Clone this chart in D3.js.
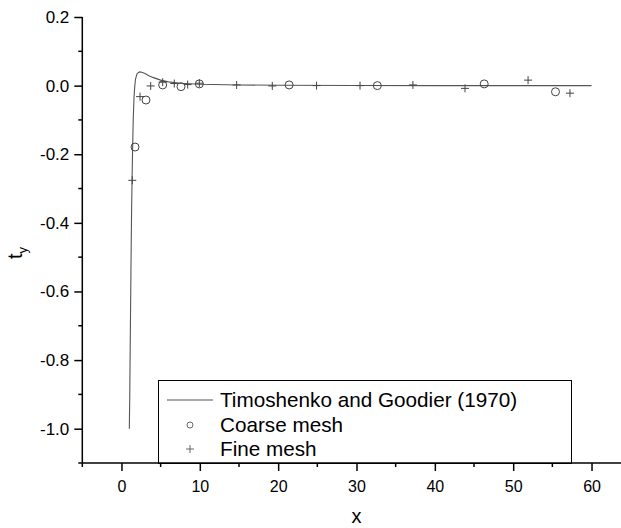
<!DOCTYPE html>
<html>
<head>
<meta charset="utf-8">
<script src="https://cdn.jsdelivr.net/npm/d3@7"></script>
<style>
html,body{margin:0;padding:0;background:#fff;}
svg{display:block;font-family:"Liberation Sans",Arial,sans-serif;}
</style>
</head>
<body>
<svg id="chart" width="621" height="528"></svg>
<script>
// ---- data ----
const curveX = [1.0, 1.05, 1.1, 1.15, 1.2, 1.25, 1.3, 1.4, 1.5, 1.6, 1.7, 1.8, 2.0, 2.3, 2.6, 3.0, 3.5, 4.0, 5.0, 6.0, 7.5, 10, 15, 20, 30, 40, 50, 60];
const curveY = [-1.0, -0.92, -0.80, -0.68, -0.56, -0.45, -0.35, -0.21, -0.10, -0.035, 0.0, 0.02, 0.035, 0.04, 0.039, 0.035, 0.029, 0.024, 0.016, 0.011, 0.007, 0.004, 0.002, 0.001, 0.0005, 0.0, 0.0, 0.0];
const coarseX = [1.73, 3.13, 5.26, 7.6, 9.94, 21.4, 32.66, 46.3, 55.4];
const coarseY = [-0.179, -0.042, 0.002, -0.003, 0.005, 0.002, 0.0, 0.005, -0.018];
const fineX = [1.38, 2.37, 3.73, 5.26, 6.74, 8.45, 9.94, 14.7, 19.25, 24.9, 30.45, 37.2, 43.85, 51.9, 57.25];
const fineY = [-0.276, -0.032, -0.001, 0.01, 0.006, 0.003, 0.007, 0.002, -0.001, 0.0, 0.0, 0.002, -0.008, 0.016, -0.022];
const xTicks = [0, 10, 20, 30, 40, 50, 60];
const xMinor = [-5, 5, 15, 25, 35, 45, 55, 65];
const yTicks = [0.2, 0.0, -0.2, -0.4, -0.6, -0.8, -1.0];
const yMinor = [0.1, -0.1, -0.3, -0.5, -0.7, -0.9, -1.1];
const legendLabels = ["Timoshenko and Goodier (1970)", "Coarse mesh", "Fine mesh"];

// ---- layout ----
const svg = d3.select("#chart");
const x = d3.scaleLinear().domain([-5, 65]).range([82.3, 630.7]);
const y = d3.scaleLinear().domain([-1.1, 0.2]).range([463, 17]);
const axisColor = "#000";
const markColor = "#444";

// legend box (drawn first so axis overlays its bottom)
const lg = svg.append("g");
lg.append("rect").attr("x", 158.5).attr("y", 380.5).attr("width", 413).attr("height", 83)
  .attr("fill", "none").attr("stroke", "#000").attr("stroke-width", 1);

// curve
const line = d3.line().x((d, i) => x(curveX[i])).y((d, i) => y(curveY[i]));
svg.append("path").datum(curveY).attr("d", line)
  .attr("fill", "none").attr("stroke", "#555").attr("stroke-width", 1.1);

// coarse mesh circles
svg.append("g").selectAll("circle").data(coarseX).join("circle")
  .attr("cx", d => x(d)).attr("cy", (d, i) => y(coarseY[i])).attr("r", 4)
  .attr("fill", "none").attr("stroke", markColor).attr("stroke-width", 1);

// fine mesh plus
svg.append("g").selectAll("path").data(fineX).join("path")
  .attr("d", (d, i) => `M${x(d) - 4},${y(fineY[i])}h8M${x(d)},${y(fineY[i]) - 4}v8`)
  .attr("fill", "none").attr("stroke", markColor).attr("stroke-width", 1);

// axes
const xAxis = d3.axisBottom(x).tickValues(xTicks).tickSize(8).tickFormat(d => String(d));
const gx = svg.append("g").attr("transform", "translate(0,463)").call(xAxis);
gx.append("g").selectAll("line").data(xMinor).join("line")
  .attr("x1", d => x(d)).attr("x2", d => x(d)).attr("y1", 0).attr("y2", 4)
  .attr("stroke", axisColor).attr("stroke-width", 1.5);
gx.select(".domain").attr("d", `M${x(-5)},0H${x(65)}`).attr("stroke-width", 1.5);
gx.selectAll(".tick line").attr("stroke-width", 1.5);
gx.selectAll(".tick text").attr("font-size", 16).attr("dy", 0).attr("y", 29)
  .attr("font-family", "Liberation Sans, Arial, sans-serif").attr("fill", "#000");

const yAxis = d3.axisLeft(y).tickValues(yTicks).tickSize(8).tickFormat(d => d.toFixed(1));
const gy = svg.append("g").attr("transform", "translate(82.3,0)").call(yAxis);
gy.append("g").selectAll("line").data(yMinor).join("line")
  .attr("x1", 0).attr("x2", -4).attr("y1", d => y(d)).attr("y2", d => y(d))
  .attr("stroke", axisColor).attr("stroke-width", 1.5);
gy.select(".domain").attr("d", `M0,${y(0.2)}V${y(-1.1)}`).attr("stroke-width", 1.5);
gy.selectAll(".tick line").attr("stroke-width", 1.5);
gy.selectAll(".tick text").attr("font-size", 17).attr("x", -13)
  .attr("font-family", "Liberation Sans, Arial, sans-serif").attr("fill", "#000");

// axis titles
svg.append("text").attr("x", x(30)).attr("y", 523).attr("text-anchor", "middle")
  .attr("font-size", 20).text("x");
const yt = svg.append("text").attr("transform", "translate(22,253) rotate(-90)")
  .attr("text-anchor", "middle").attr("font-size", 20);
yt.append("tspan").text("t");
yt.append("tspan").attr("font-size", 13).attr("dy", 5).text("y");

// legend entries
const rows = [400, 425, 449];
lg.append("line").attr("x1", 167).attr("x2", 213).attr("y1", rows[0]).attr("y2", rows[0])
  .attr("stroke", "#555").attr("stroke-width", 1.1);
lg.append("circle").attr("cx", 190).attr("cy", rows[1]).attr("r", 3)
  .attr("fill", "none").attr("stroke", markColor).attr("stroke-width", 0.8);
lg.append("path").attr("d", `M186,${rows[2]}h8M190,${rows[2] - 4}v8`)
  .attr("fill", "none").attr("stroke", markColor).attr("stroke-width", 0.8);
lg.selectAll("text").data(legendLabels).join("text")
  .attr("x", 220).attr("y", (d, i) => rows[i] + 7).attr("font-size", 20.7).attr("fill", "#000")
  .text(d => d);
</script>
</body>
</html>
